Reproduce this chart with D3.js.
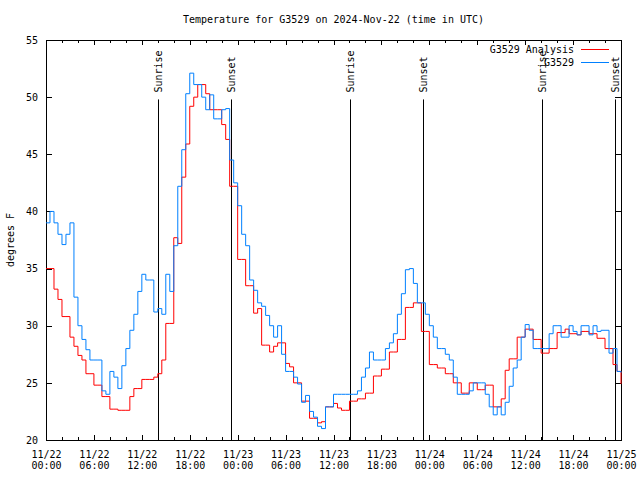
<!DOCTYPE html>
<html><head><meta charset="utf-8">
<script src="https://cdn.jsdelivr.net/npm/d3@7/dist/d3.min.js"></script>
<style>
body{margin:0;background:#fff}
text{font-family:"DejaVu Sans Mono","Liberation Mono",monospace;font-size:10px;fill:#000}
</style>
</head><body>
<svg id="chart" width="640" height="480"></svg>
<script>
// ---- data ----
const titleText = "Temperature for G3529 on 2024-Nov-22 (time in UTC)";
const yLabelText = "degrees F";
const seriesNames = ["G3529 Analysis", "G3529"];
const seriesColors = ["#ff0000", "#0080ff"];
const sampleStepHours = 0.5;   // readings every 30 minutes from 11/22 00:00 UTC

const analysisTemps = [
  35.0,35.0,33.2,32.3,30.8,30.8,29.0,28.2,27.4,27.0,25.8,25.8,
  24.8,24.8,23.8,23.8,22.7,22.7,22.6,22.6,22.6,23.8,24.5,24.5,
  25.3,25.3,25.3,25.5,25.8,27.0,30.2,30.2,37.7,37.2,43.0,45.9,
  49.2,50.0,51.1,51.1,50.3,48.9,48.9,48.9,47.6,46.3,42.2,42.2,
  35.8,35.8,33.5,33.5,31.1,31.5,28.3,28.3,27.7,28.2,28.5,28.5,
  26.7,26.4,25.0,25.0,23.4,23.4,21.9,21.9,21.5,21.6,22.9,22.9,
  23.2,22.8,22.6,22.6,23.4,23.4,23.6,23.6,24.1,24.1,25.6,25.6,
  26.2,26.2,27.7,27.7,28.8,28.8,31.6,31.6,32.0,32.0,29.5,29.5,
  26.6,26.6,26.3,26.3,25.8,25.8,25.0,25.0,24.1,24.1,25.0,25.0,
  24.4,24.4,24.8,24.8,22.9,22.9,23.6,26.1,27.1,27.1,29.0,29.0,
  29.7,29.7,28.8,28.8,27.6,27.6,28.0,28.0,29.4,29.4,29.7,29.3,
  29.3,29.2,29.5,29.5,29.3,29.3,28.9,28.9,28.0,28.0,26.6,26.0,
  24.9
];
const stationTemps = [
  39.0,40.0,39.0,38.0,37.1,38.0,39.0,32.5,30.0,28.8,27.9,27.0,
  27.0,27.0,24.3,24.0,26.0,25.5,24.5,26.5,28.0,29.6,31.0,33.0,
  34.5,34.0,34.0,31.2,31.5,31.0,34.5,33.0,37.0,42.2,45.4,50.3,
  52.1,51.1,51.1,50.0,48.9,50.2,48.1,48.1,48.9,49.0,44.5,42.5,
  40.5,38.0,37.0,34.0,33.1,32.0,31.7,30.9,30.0,29.0,30.0,27.5,
  26.0,26.0,25.5,24.9,23.3,23.9,22.5,22.0,21.2,21.0,22.9,22.9,
  24.0,24.0,24.0,24.0,24.0,24.0,24.3,25.5,26.3,27.7,27.0,27.0,
  27.0,28.0,28.5,29.3,31.0,32.8,34.9,35.0,33.7,32.0,32.0,31.0,
  30.0,29.0,28.0,28.0,27.5,27.0,25.5,24.0,24.0,24.0,24.3,25.0,
  25.0,25.0,24.0,22.9,22.2,22.9,22.2,23.3,24.7,26.3,27.0,29.0,
  30.1,29.6,28.0,28.0,28.0,28.0,29.3,30.0,30.0,29.0,29.0,30.0,
  29.5,29.2,30.0,30.0,29.2,30.0,29.5,29.6,29.6,27.6,28.0,26.0,
  25.9
];

const sunEventHours = [14.05, 23.2, 38.05, 47.2, 62.05, 71.2];
const sunEventLabels = ["Sunrise","Sunset","Sunrise","Sunset","Sunrise","Sunset"];

const xTickHours = [0,6,12,18,24,30,36,42,48,54,60,66,72];
const xTickDates = ["11/22","11/22","11/22","11/22","11/23","11/23","11/23","11/23","11/24","11/24","11/24","11/24","11/25"];
const xTickTimes = ["00:00","06:00","12:00","18:00","00:00","06:00","12:00","18:00","00:00","06:00","12:00","18:00","00:00"];
const xMinorHours = [2,4,8,10,14,16,20,22,26,28,32,34,38,40,44,46,50,52,56,58,62,64,68,70];
const yTicks = [20,25,30,35,40,45,50,55];

// ---- layout ----
const svg = d3.select("#chart");
const L = 46, R = 621, T = 40, B = 440;
const x = d3.scaleLinear().domain([0,72]).range([L,R]);
const y = d3.scaleLinear().domain([20,55]).range([B,T]);

// title
svg.append("text").attr("x",(L+R)/2).attr("y",23).attr("text-anchor","middle").text(titleText);
// y label
svg.append("text").attr("transform",`translate(14,${(T+B)/2}) rotate(-90)`)
  .attr("text-anchor","middle").text(yLabelText);

// axes
const axG = svg.append("g");
function styleAxis(g){ g.select(".domain").remove(); g.selectAll("line").attr("stroke","#000").attr("shape-rendering","crispEdges"); }

const bottomAxis = axG.append("g").attr("transform",`translate(0,${B})`)
  .call(d3.axisBottom(x).tickValues(xTickHours).tickSize(-5).tickFormat(""));
styleAxis(bottomAxis);
bottomAxis.selectAll(".tick text").remove();
bottomAxis.selectAll(".tick").append("text")
  .attr("text-anchor","middle")
  .each(function(d,i){
    const t = d3.select(this);
    t.append("tspan").attr("x",0).attr("y",18).text(xTickDates[i]);
    t.append("tspan").attr("x",0).attr("y",29).text(xTickTimes[i]);
  });
const bottomMinor = axG.append("g").attr("transform",`translate(0,${B})`)
  .call(d3.axisBottom(x).tickValues(xMinorHours).tickSize(-3).tickFormat(""));
styleAxis(bottomMinor);
const topAxis = axG.append("g").attr("transform",`translate(0,${T})`)
  .call(d3.axisTop(x).tickValues(xTickHours).tickSize(-5).tickFormat(""));
styleAxis(topAxis);
const topMinor = axG.append("g").attr("transform",`translate(0,${T})`)
  .call(d3.axisTop(x).tickValues(xMinorHours).tickSize(-3).tickFormat(""));
styleAxis(topMinor);
const leftAxis = axG.append("g").attr("transform",`translate(${L},0)`)
  .call(d3.axisLeft(y).tickValues(yTicks).tickSize(-6).tickPadding(8).tickFormat(d3.format("d")));
styleAxis(leftAxis);
leftAxis.attr("font-family",null).attr("font-size",null);
bottomAxis.attr("font-family",null).attr("font-size",null);
const rightAxis = axG.append("g").attr("transform",`translate(${R},0)`)
  .call(d3.axisRight(y).tickValues(yTicks).tickSize(-6).tickFormat(""));
styleAxis(rightAxis);

// border
svg.append("rect").attr("x",L+0.5).attr("y",T+0.5).attr("width",R-L).attr("height",B-T)
  .attr("fill","none").attr("stroke","#000").attr("stroke-width",1);

// sunrise / sunset
const sun = svg.append("g");
sun.selectAll("line").data(sunEventHours).join("line")
  .attr("x1",d=>Math.round(x(d))+0.5).attr("x2",d=>Math.round(x(d))+0.5)
  .attr("y1",y(49.8)).attr("y2",B)
  .attr("stroke","#000").attr("stroke-width",1);
sun.selectAll("text").data(sunEventHours).join("text")
  .attr("transform",d=>`translate(${Math.round(x(d))+4},${y(50.4)}) rotate(-90)`)
  .attr("text-anchor","start")
  .text((d,i)=>sunEventLabels[i]);

// series
const line = d3.line().curve(d3.curveStepAfter)
  .x((d,i)=>x(i*sampleStepHours)).y(d=>y(d));
const plot = svg.append("g");
[analysisTemps, stationTemps].forEach((arr,k)=>{
  plot.append("path").datum(arr).attr("d",line)
    .attr("fill","none").attr("stroke",seriesColors[k]).attr("stroke-width",1);
});

// legend
const leg = svg.append("g");
seriesNames.forEach((name,k)=>{
  const ly = 49 + k*13;
  leg.append("text").attr("x",574).attr("y",ly+4).attr("text-anchor","end").text(name);
  leg.append("line").attr("x1",581).attr("x2",609).attr("y1",ly+0.5).attr("y2",ly+0.5)
    .attr("stroke",seriesColors[k]).attr("stroke-width",1);
});
</script>
</body></html>
